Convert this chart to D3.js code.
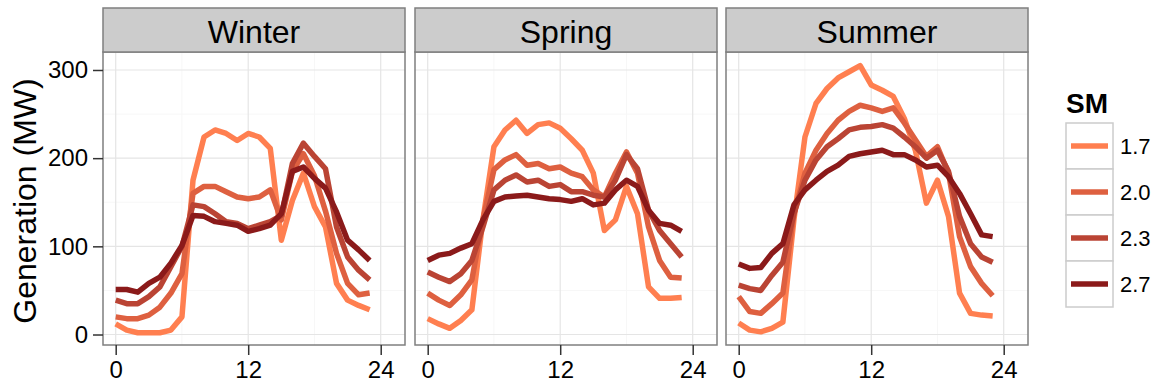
<!DOCTYPE html>
<html>
<head>
<meta charset="utf-8">
<script src="https://cdn.jsdelivr.net/npm/d3@7"></script>
<style>
  body { margin: 0; background: #fff; }
  svg { font-family: "Liberation Sans", Arial, sans-serif; }
</style>
</head>
<body>
<svg id="chart" width="1157" height="392"></svg>
<script>
// hours of the day
const hours = d3.range(0, 24);
const seasons = ["Winter", "Spring", "Summer"];
const smLevels = ["1.7", "2.0", "2.3", "2.7"];
const smColors = ["#FF7F50", "#DE6040", "#BA4434", "#8B1A1A"];
const yTicks = [0, 100, 200, 300];
const xTicks = [0, 12, 24];

// generation (MW) per hour
const winter17 = [12, 5, 2, 2, 2, 5, 20, 175, 224, 232, 228, 220, 228, 224, 211, 107, 152, 183, 145, 122, 58, 39, 33, 28];
const winter20 = [20, 18, 18, 22, 31, 47, 69, 160, 168, 168, 162, 156, 154, 156, 164, 130, 185, 205, 180, 140, 92, 58, 45, 47];
const winter23 = [39, 35, 35, 43, 54, 77, 100, 147, 145, 137, 128, 126, 120, 124, 128, 135, 194, 217, 202, 188, 122, 88, 73, 62];
const winter27 = [51, 51, 48, 58, 65, 81, 101, 135, 134, 128, 126, 124, 117, 120, 124, 137, 185, 190, 177, 166, 139, 107, 96, 84];

const spring17 = [18, 12, 7, 16, 28, 130, 213, 232, 243, 228, 238, 240, 234, 222, 209, 183, 118, 130, 168, 137, 54, 41, 41, 42];
const spring20 = [47, 39, 33, 45, 62, 130, 187, 198, 204, 192, 194, 188, 190, 183, 179, 164, 156, 183, 207, 183, 122, 84, 65, 64];
const spring23 = [71, 65, 60, 69, 84, 122, 164, 175, 181, 173, 175, 168, 170, 162, 162, 158, 156, 175, 204, 188, 141, 118, 103, 88];
const spring27 = [84, 90, 92, 98, 103, 130, 151, 156, 157, 158, 156, 154, 153, 151, 154, 147, 149, 164, 175, 168, 141, 126, 124, 117];

const summer17 = [13, 5, 3, 7, 14, 130, 224, 262, 279, 291, 298, 305, 283, 277, 270, 245, 209, 149, 175, 134, 47, 24, 22, 21];
const summer20 = [43, 26, 24, 35, 47, 137, 183, 209, 228, 243, 253, 260, 257, 253, 257, 240, 221, 202, 213, 183, 111, 77, 58, 44];
const summer23 = [56, 52, 50, 67, 82, 137, 175, 198, 213, 222, 232, 235, 236, 238, 234, 224, 213, 200, 209, 185, 134, 103, 88, 82];
const summer27 = [80, 75, 76, 92, 103, 147, 164, 175, 185, 192, 202, 205, 207, 209, 204, 204, 198, 190, 192, 179, 160, 137, 113, 111];

const seriesBySeason = {
  Winter: [winter17, winter20, winter23, winter27],
  Spring: [spring17, spring20, spring23, spring27],
  Summer: [summer17, summer20, summer23, summer27]
};

const svg = d3.select("#chart");

// layout
const panelLeft = [103, 415, 726];
const panelW = 302;
const panelTop = 52, panelBottom = 345;
const stripTop = 8;
const borderCol = "#7F7F7F";

const y = d3.scaleLinear().domain([-11.9, 320.4]).range([panelBottom, panelTop]);

seasons.forEach((season, i) => {
  const x0 = panelLeft[i];
  const x = d3.scaleLinear().domain([-1.15, 26.2]).range([x0, x0 + panelW]);
  const g = svg.append("g");

  // panel background
  g.append("rect")
    .attr("x", x0).attr("y", panelTop)
    .attr("width", panelW).attr("height", panelBottom - panelTop)
    .attr("fill", "#fff");

  // minor grid
  [6, 18].forEach(v => {
    g.append("line").attr("x1", x(v)).attr("x2", x(v))
      .attr("y1", panelTop).attr("y2", panelBottom)
      .attr("stroke", "#F7F7F7").attr("stroke-width", 1);
  });
  [50, 150, 250].forEach(v => {
    g.append("line").attr("x1", x0).attr("x2", x0 + panelW)
      .attr("y1", y(v)).attr("y2", y(v))
      .attr("stroke", "#F7F7F7").attr("stroke-width", 1);
  });
  // major grid
  xTicks.forEach(v => {
    g.append("line").attr("x1", x(v)).attr("x2", x(v))
      .attr("y1", panelTop).attr("y2", panelBottom)
      .attr("stroke", "#E5E5E5").attr("stroke-width", 1.2);
  });
  yTicks.forEach(v => {
    g.append("line").attr("x1", x0).attr("x2", x0 + panelW)
      .attr("y1", y(v)).attr("y2", y(v))
      .attr("stroke", "#E5E5E5").attr("stroke-width", 1.2);
  });

  // lines
  const line = d3.line()
    .x((d, j) => x(hours[j]))
    .y(d => y(d));

  seriesBySeason[season].forEach((vals, k) => {
    g.append("path")
      .datum(vals)
      .attr("d", line)
      .attr("fill", "none")
      .attr("stroke", smColors[k])
      .attr("stroke-width", 5.5)
      .attr("stroke-linejoin", "round");
  });

  // panel border
  g.append("rect")
    .attr("x", x0).attr("y", panelTop)
    .attr("width", panelW).attr("height", panelBottom - panelTop)
    .attr("fill", "none").attr("stroke", borderCol).attr("stroke-width", 1.5);

  // strip
  g.append("rect")
    .attr("x", x0).attr("y", stripTop)
    .attr("width", panelW).attr("height", panelTop - stripTop)
    .attr("fill", "#CCCCCC").attr("stroke", borderCol).attr("stroke-width", 1.5);
  g.append("text")
    .attr("x", x0 + panelW / 2).attr("y", 43)
    .attr("text-anchor", "middle")
    .attr("font-size", 32)
    .attr("fill", "#000")
    .text(season);

  // x axis
  const xAxis = d3.axisBottom(x).tickValues(xTicks).tickSize(10).tickPadding(6);
  const ax = g.append("g").attr("transform", `translate(0,${panelBottom})`).call(xAxis);
  ax.select(".domain").remove();
  ax.selectAll(".tick line").attr("stroke", "#333").attr("stroke-width", 1.5);
  ax.selectAll(".tick text").attr("font-size", 24).attr("fill", "#000")
    .attr("font-family", "Liberation Sans, Arial, sans-serif");

  // y axis on first panel only
  if (i === 0) {
    const yAxis = d3.axisLeft(y).tickValues(yTicks).tickSize(10).tickPadding(5);
    const ay = g.append("g").attr("transform", `translate(${x0},0)`).call(yAxis);
    ay.select(".domain").remove();
    ay.selectAll(".tick line").attr("stroke", "#333").attr("stroke-width", 1.5);
    ay.selectAll(".tick text").attr("font-size", 24).attr("fill", "#000")
      .attr("font-family", "Liberation Sans, Arial, sans-serif");
  }
});

// y axis title
svg.append("text")
  .attr("transform", "translate(36,201) rotate(-90)")
  .attr("text-anchor", "middle")
  .attr("font-size", 32)
  .attr("fill", "#000")
  .text("Generation (MW)");

// legend
const lg = svg.append("g");
lg.append("text")
  .attr("x", 1066).attr("y", 113)
  .attr("font-size", 28).attr("font-weight", "bold")
  .text("SM");

smLevels.forEach((lvl, k) => {
  const top = 123 + k * 46;
  lg.append("rect")
    .attr("x", 1066).attr("y", top)
    .attr("width", 47).attr("height", 46)
    .attr("fill", "#fff").attr("stroke", "#CCCCCC").attr("stroke-width", 1.5);
  lg.append("line")
    .attr("x1", 1071).attr("x2", 1108)
    .attr("y1", top + 23).attr("y2", top + 23)
    .attr("stroke", smColors[k]).attr("stroke-width", 5.5);
  lg.append("text")
    .attr("x", 1120).attr("y", top + 31)
    .attr("font-size", 22).attr("fill", "#000")
    .text(lvl);
});
</script>
</body>
</html>
